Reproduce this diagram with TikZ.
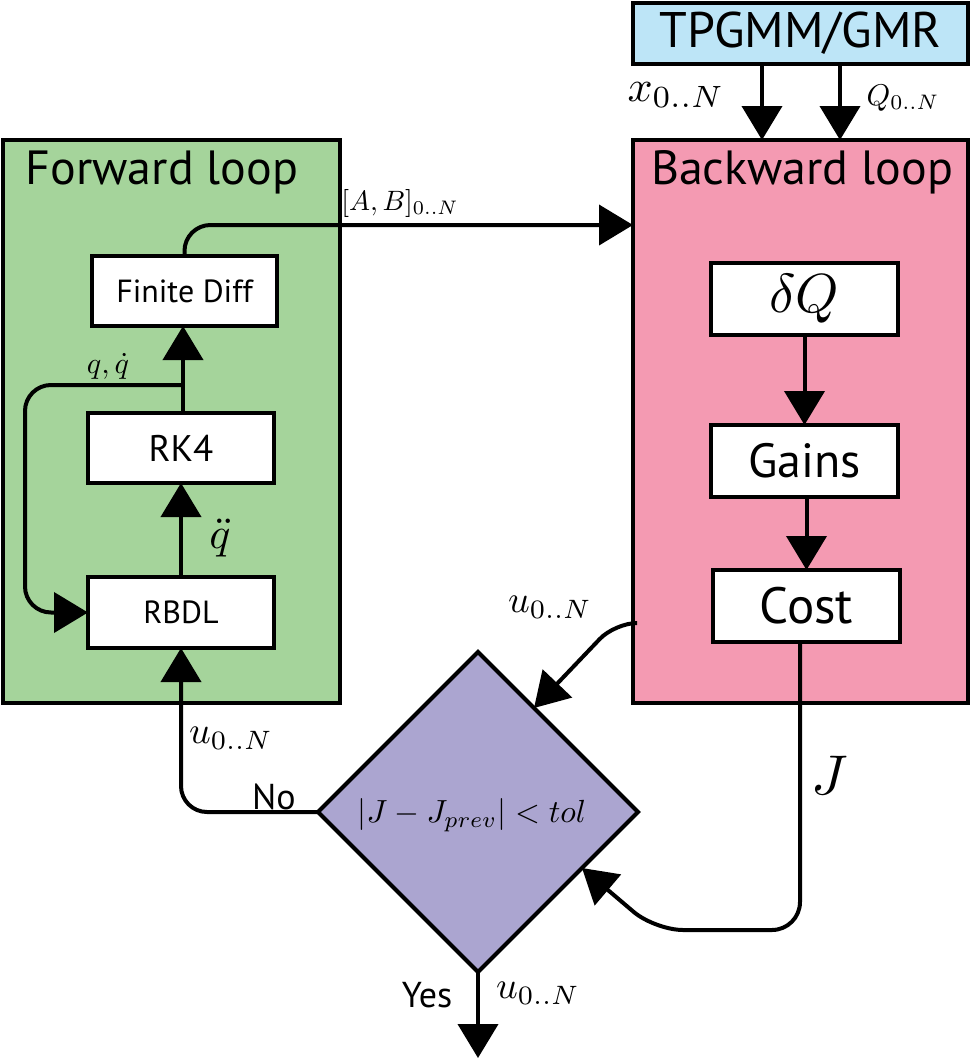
\documentclass[tikz,border=0pt]{standalone}
\usepackage{fontspec}
\setsansfont{PT Sans}
\usetikzlibrary{arrows.meta,shapes.geometric,calc}
\definecolor{fwgreen}{RGB}{165,212,155}
\definecolor{bwpink}{RGB}{244,154,178}
\definecolor{tpblue}{RGB}{189,229,247}
\definecolor{diapurple}{RGB}{171,165,208}
\newcommand{\fsz}[1]{\fontsize{#1}{#1}\selectfont}
\begin{document}
\begin{tikzpicture}[x=1pt,y=-1pt,
  every node/.style={inner sep=0pt, outer sep=0pt},
  frame/.style={draw, line width=4pt, rectangle},
  wbox/.style={frame, fill=white, font=\sffamily},
  ln/.style={line width=4pt},
  arr/.style={line width=4pt, -{Triangle[width=40pt,length=34pt]}},
  rc/.style={rounded corners=26pt},
  ml/.style={font=\fontsize{10}{12}\selectfont, scale=#1/10}
]
\useasboundingbox (0,0) rectangle (973,1061);

% containers
\node[frame, fill=fwgreen, minimum width=337, minimum height=563] (fw) at (171.5,421.5) {};
\node[frame, fill=bwpink, minimum width=335, minimum height=563] (bw) at (800.5,421.5) {};
\node[frame, fill=tpblue, minimum width=335, minimum height=61, font=\sffamily\fsz{50}] (tp) at (800.5,33.5) {TPGMM/GMR};

\node[font=\sffamily\fsz{48}] (fwt) at (162,172) {Forward loop};
\node[font=\sffamily\fsz{48}] (bwt) at (802,172) {Backward loop};

% forward inner boxes
\node[wbox, minimum width=185, minimum height=70, font=\sffamily\fsz{32}] (fd) at (184.5,291) {Finite Diff};
\node[wbox, minimum width=186, minimum height=70, font=\sffamily\fsz{37}] (rk) at (181,448) {RK4};
\node[wbox, minimum width=186, minimum height=71, font=\sffamily\fsz{32}] (rb) at (181,612.5) {RBDL};

% backward inner boxes
\node[wbox, minimum width=187, minimum height=72] (dq) at (804.5,299) {};
\node[ml=55] (dqt) at (dq.center) {$\delta Q$};
\node[wbox, minimum width=187, minimum height=72, font=\sffamily\fsz{48}] (gn) at (804.5,461) {Gains};
\node[wbox, minimum width=187, minimum height=72, font=\sffamily\fsz{51}] (co) at (806.5,606) {Cost};

% decision
\node[diamond, draw, line width=4pt, fill=diapurple, aspect=1, minimum width=320, minimum height=320] (dia) at (478,812) {};
\node[ml=32] (diat) at (472,815) {$|J-J_{prev}|<tol$};

% coordinates
\coordinate (tap) at (183,385);
\coordinate (tapL) at (25,385);
\coordinate (tapB) at (25,612.5);
\coordinate (abY) at (183,225);
\coordinate (uOut) at (633,623);
\coordinate (uCorner) at (615,623);
\coordinate (diaIn1) at ($(dia.north)!0.35!(dia.east)$);
\coordinate (diaIn2) at ($(dia.east)!0.35!(dia.south)$);
\coordinate (jDown) at (800,930);
\coordinate (jCorner) at (655,930);
\coordinate (yesEnd) at (478,1058);

% TPGMM arrows
\draw[arr] ($(tp.south)+(-38.5,0)$) -- ($(bw.north)+(-38.5,0)$);
\draw[arr] ($(tp.south)+(39.5,0)$) -- ($(bw.north)+(39.5,0)$);
\node[ml=44] (xl) at (676,95) {$x_{0..N}$};
\node[ml=30] (ql) at (903,98) {$Q_{0..N}$};

% forward loop connectors
\draw[arr, rc] (fd.north) |- (abY -| bw.west);
\node[ml=28] (abl) at (400,203) {$[A,B]_{0..N}$};
\draw[arr] (rk.north -| tap) -- (fd.south -| tap);
\draw[arr, rc] (tap) -- (tapL) -- (tapB) -- (rb.west);
\node[ml=30] (qql) at (108,366) {$q,\dot q$};
\draw[arr] (rb.north) -- (rk.south);
\node[ml=44] (qdd) at (220,538) {$\ddot q$};

% backward loop connectors
\draw[arr] (dq.south) -- (dq.south |- gn.north);
\draw[arr] (co.south |- gn.south) -- (co.north);

% to decision
\draw[arr, rounded corners=22pt] (uOut) -- (uCorner) -- (diaIn1);
\node[ml=38] (ul1) at (550,607) {$u_{0..N}$};
\draw[arr, rounded corners=28pt] (co.south -| jDown) -- (jDown) -- (jCorner) -- (diaIn2);
\node[ml=56] (jl) at (830,775) {$J$};

% No branch
\draw[arr, rc] (dia.west) -| (rb.south);
\node[ml=38] (ul2) at (231,738) {$u_{0..N}$};
\node[font=\sffamily\fsz{36}] (no) at (274,797) {No};

% Yes branch
\draw[arr] (dia.south) -- (yesEnd);
\node[font=\sffamily\fsz{36}] (yes) at (427,995) {Yes};
\node[ml=38] (ul3) at (538,993) {$u_{0..N}$};
\end{tikzpicture}
\end{document}
